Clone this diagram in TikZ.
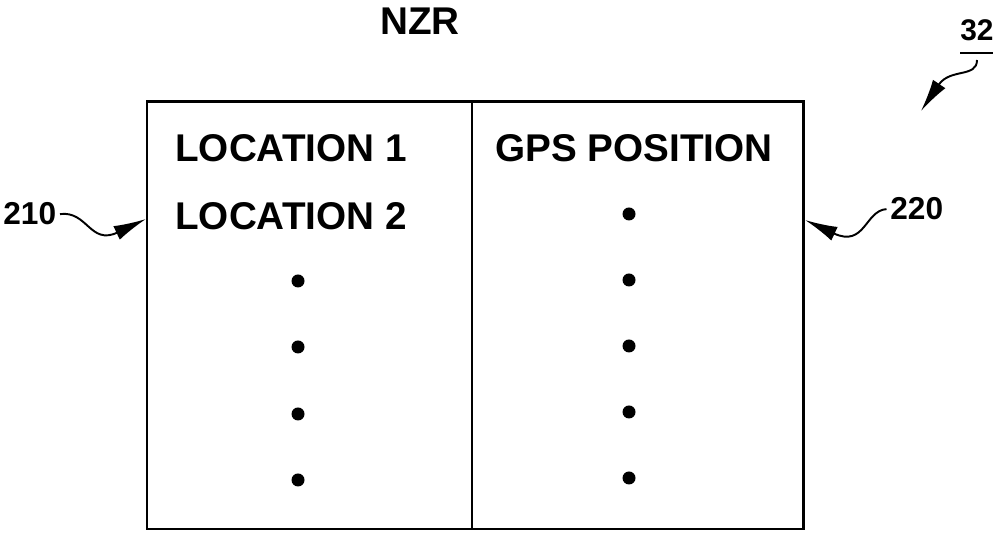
\documentclass[tikz,border=0pt]{standalone}
\usepackage{fontspec}
\setmainfont{Liberation Sans}
\usepackage{tikz}
\usetikzlibrary{arrows.meta}
\usetikzlibrary{calc}

\tikzset{
  bigtxt/.style={font=\bfseries\fontsize{22}{26}\selectfont, inner sep=0pt},
  reftxt/.style={font=\bfseries\fontsize{18}{22}\selectfont, inner sep=0pt},
  pointer/.style={line width=1.1pt, -{Latex[length=6.5mm,width=3mm]}},
}

\begin{document}
\begin{tikzpicture}
			\useasboundingbox (0,0) rectangle (19.86,10.66);
			% the table
			\draw [line width=1.7pt] (2.94,0.08) rectangle (16.06,8.62);
			\draw [line width=1.1pt] (9.44,0.08)-- (9.44,8.62);
			\node[bigtxt, anchor=base] (title) at (8.4,9.96) {NZR};
			\node[bigtxt, anchor=base west] (loc1) at (3.5,7.42) {LOCATION 1};
			\node[bigtxt, anchor=base west] (loc2) at (3.5,6.06) {LOCATION 2};
			\node[bigtxt, anchor=base west] (gps) at (9.9,7.42) {GPS POSITION};
			\foreach \y in {5.04,3.72,2.38,1.06}
				\fill (5.96,\y) circle (0.13);
			\foreach \y in {6.38,5.06,3.74,2.42,1.10}
				\fill (12.58,\y) circle (0.13);
			% reference numerals
			\node[reftxt, anchor=base west] (n210) at (0.06,6.16) {210};
			\node[reftxt, anchor=base west] (n220) at (17.8,6.26) {220};
			\node[reftxt, anchor=base west, font=\bfseries\fontsize{17}{20}\selectfont] (n32) at (19.2,9.84) {32};
			\draw [line width=1pt] ([yshift=-0.24cm]n32.base west)-- ([yshift=-0.24cm]n32.base east);
			\coordinate (t210) at (2.92,6.28);
			\coordinate (t220) at (16.1,6.26);
			\coordinate (t32) at (18.42,8.44);
			\draw [pointer] ([xshift=2pt]n210.east) .. controls (1.75,6.45) and (1.8,5.75) .. (t210);
			\draw [pointer] ([xshift=-2pt]n220.west) .. controls (17.3,6.45) and (17.3,5.7) .. (t220);
			\draw [pointer] (19.54,9.46) .. controls (19.54,9.1) and (19.0,9.3) .. (t32);
		\end{tikzpicture}
\end{document}
